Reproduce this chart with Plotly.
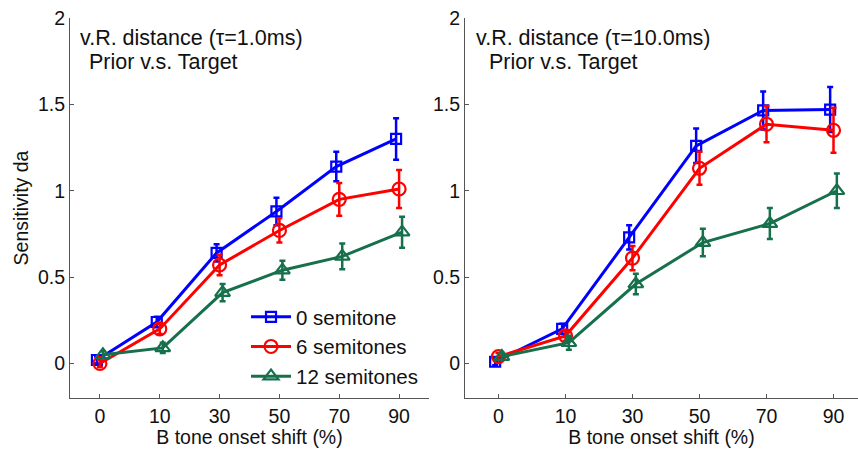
import plotly.graph_objects as go

shifts = ["0", "10", "30", "50", "70", "90"]
series_names = ["0 semitone", "6 semitones", "12 semitones"]

left_0 = [0.02, 0.24, 0.64, 0.88, 1.14, 1.30]
left_0_err = [0.02, 0.03, 0.05, 0.08, 0.085, 0.12]
left_6 = [0.00, 0.20, 0.57, 0.77, 0.95, 1.01]
left_6_err = [0.02, 0.03, 0.06, 0.07, 0.095, 0.11]
left_12 = [0.05, 0.09, 0.41, 0.54, 0.62, 0.76]
left_12_err = [0.02, 0.03, 0.05, 0.055, 0.075, 0.09]

right_0 = [0.01, 0.20, 0.73, 1.26, 1.465, 1.47]
right_0_err = [0.02, 0.03, 0.07, 0.10, 0.11, 0.13]
right_6 = [0.04, 0.16, 0.61, 1.13, 1.385, 1.35]
right_6_err = [0.02, 0.03, 0.07, 0.095, 0.105, 0.13]
right_12 = [0.04, 0.12, 0.46, 0.70, 0.81, 1.00]
right_12_err = [0.02, 0.04, 0.06, 0.08, 0.09, 0.10]

colors = ["#0000ff", "#ff0000", "#17704c"]
symbols = ["square-open", "circle-open", "triangle-up-open"]
sizes = [10, 13, 13]
dodge = [-0.05, 0.0, 0.05]

FONT = "Liberation Sans, Arial, sans-serif"
W, H = 858, 454
TXT = "#111111"

fig = go.Figure()

panels = [
    ("x", "y", [(left_0, left_0_err), (left_6, left_6_err), (left_12, left_12_err)], True),
    ("x2", "y2", [(right_0, right_0_err), (right_6, right_6_err), (right_12, right_12_err)], False),
]
base = list(range(1, len(shifts) + 1))
for xa, ya, data, show in panels:
    for i, (vals, errs) in enumerate(data):
        fig.add_trace(go.Scatter(
            x=[b + dodge[i] for b in base], y=vals,
            xaxis=xa, yaxis=ya,
            mode="lines+markers",
            name=series_names[i],
            showlegend=show,
            line=dict(color=colors[i], width=3),
            marker=dict(symbol=symbols[i], size=sizes[i], color=colors[i],
                        line=dict(color=colors[i], width=2.2)),
            error_y=dict(type="data", array=errs, visible=True,
                         color=colors[i], thickness=2.5, width=3),
        ))

def px_x(p):
    return p / W

def px_y(p):
    return (H - p) / H

axis_common = dict(
    showgrid=False, zeroline=False, showline=True, linecolor="#555555", linewidth=1.2,
    ticks="inside", ticklen=4, tickcolor="#555555", automargin=False,
    tickfont=dict(family=FONT, size=19.5, color=TXT),
)

title_font = dict(family=FONT, size=19.5, color=TXT)
ydom = [px_y(398), px_y(18)]
fig.update_layout(
    width=W, height=H,
    margin=dict(l=0, r=0, t=0, b=0, autoexpand=False),
    paper_bgcolor="white", plot_bgcolor="white",
    showlegend=True,
    legend=dict(x=px_x(246), y=px_y(297), xanchor="left", yanchor="top",
                font=dict(family=FONT, size=20.5, color=TXT),
                bgcolor="rgba(0,0,0,0)", tracegroupgap=0, itemwidth=40),
    xaxis=dict(domain=[px_x(70), px_x(429)], range=[0.5, 6.5],
               tickvals=base, ticktext=shifts,
               title=dict(text="B tone onset shift (%)", standoff=0, font=title_font),
               anchor="y", **axis_common),
    yaxis=dict(domain=ydom, range=[-0.2, 2],
               tickvals=[0, 0.5, 1, 1.5, 2], ticktext=["0", "0.5", "1", "1.5", "2"],
               title=dict(text="Sensitivity da", standoff=4, font=title_font),
               anchor="x", **axis_common),
    xaxis2=dict(domain=[px_x(465), 1.0], range=[0.5, 0.5 + (858 - 465) / 67.0],
                tickvals=base, ticktext=shifts,
                title=dict(text="B tone onset shift (%)", standoff=0, font=title_font),
                anchor="y2", **axis_common),
    yaxis2=dict(domain=ydom, range=[-0.2, 2],
                tickvals=[0, 0.5, 1, 1.5, 2], ticktext=["0", "0.5", "1", "1.5", "2"],
                anchor="x2", **axis_common),
)

annots = [
    (78, 38, "v.R. distance (\u03c4=1.0ms)"),
    (87, 62, "Prior v.s. Target"),
    (474, 38, "v.R. distance (\u03c4=10.0ms)"),
    (487, 62, "Prior v.s. Target"),
]
for x, y, t in annots:
    fig.add_annotation(x=px_x(x), y=px_y(y), xref="paper", yref="paper",
                       xanchor="left", yanchor="middle", showarrow=False,
                       text=t, font=dict(family=FONT, size=21.5, color=TXT))

fig.write_html(
    "out.html",
    config={"displayModeBar": False},
    post_script="document.body.style.margin='0';document.body.style.overflow='hidden';",
)
